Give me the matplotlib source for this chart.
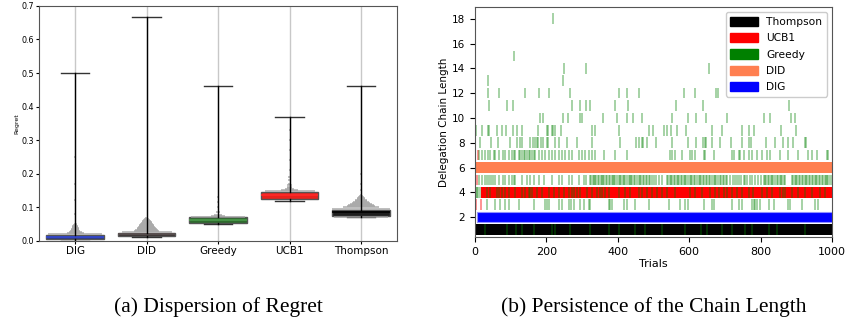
import numpy as np
import matplotlib.pyplot as plt
from matplotlib.patches import Patch

# ---- (a) regret box plots ----
algos = ["DIG", "DID", "Greedy", "UCB1", "Thompson"]
box_med = [0.012, 0.019, 0.063, 0.135, 0.087]
box_q1 = [0.004, 0.013, 0.052, 0.124, 0.074]
box_q3 = [0.017, 0.024, 0.070, 0.145, 0.093]
whis_lo = [0.0, 0.012, 0.049, 0.119, 0.070]
whis_hi = [0.499, 0.666, 0.461, 0.368, 0.461]
box_colors = ["#2b3a8c", "#3d3433", "#2e6b2e", "#e8211c", "#1e1e1e"]
med_colors = ["#3448d0", "#5a5050", "#4a9a4a", "#ff2a2a", "#000000"]

# outlier clouds above each box: regret level and relative count
dig_out = [0.019, 0.022, 0.025, 0.028, 0.031, 0.034, 0.037, 0.040, 0.043, 0.046, 0.049, 0.08, 0.12, 0.17, 0.25]
dig_cnt = [38, 12, 9, 7, 6, 5.5, 5, 4.5, 4, 3, 2, 1, 1, 1, 1]
did_out = [0.025, 0.028, 0.031, 0.034, 0.037, 0.040, 0.043, 0.046, 0.049, 0.052, 0.055, 0.058, 0.061, 0.064, 0.067]
did_cnt = [35, 18, 16, 14, 13, 12, 11, 10, 9, 8, 7, 6, 5, 3, 1.5]
greedy_out = [0.072, 0.075, 0.078, 0.085, 0.10, 0.115, 0.13]
greedy_cnt = [38, 10, 5, 3, 2, 2, 1.5]
ucb_out = [0.147, 0.150, 0.153, 0.156, 0.160, 0.165, 0.170, 0.18, 0.19, 0.21, 0.24, 0.27, 0.30, 0.33]
ucb_cnt = [35, 12, 6, 4, 3.5, 3, 2.5, 2, 1.5, 1.2, 1, 1, 1, 1]
thomp_out = [0.072, 0.096, 0.099, 0.102, 0.105, 0.108, 0.111, 0.114, 0.117, 0.120, 0.123, 0.126, 0.129, 0.132, 0.135, 0.15, 0.17, 0.20]
thomp_cnt = [38, 40, 25, 20, 18, 15, 13, 11, 9, 8, 6, 5, 4, 3, 2, 1, 1, 1]

# ---- (b) chosen chain length per trial ----
thompson_start, thompson_level = 0, 1
dig_start, dig_level = 5, 2
ucb_start, ucb_level = 18, 4
did_start, did_level = 0, 6
ucb_early_trials = [3, 6, 7, 16]
ucb_early_levels = [3, 5, 7, 3]

g1 = [29, 90, 115, 132, 164, 216, 225, 267, 323, 374, 402, 449, 477, 524, 589, 634, 650, 692, 720, 757, 776, 823, 846, 925]
g3 = [34, 57, 71, 85, 94, 122, 164, 195, 202, 208, 236, 244, 262, 270, 276, 295, 304, 318, 323, 374, 379, 384, 416, 426,
      449, 486, 544, 575, 589, 597, 640, 664, 668, 720, 740, 748, 776, 781, 785, 790, 799, 823, 837, 878, 883, 916, 953, 962]
g4 = [2, 5, 9, 13, 34, 43, 62, 66, 76, 85, 94, 113, 132, 141, 150, 155, 160, 174, 188, 206, 220, 234, 248, 262, 272, 276,
      286, 295, 314, 328, 342, 351, 356, 365, 374, 402, 421, 435, 458, 468, 482, 496, 510, 524, 538, 561, 603, 617, 636,
      659, 673, 682, 696, 706, 720, 734, 748, 766, 780, 804, 818, 832, 855, 864, 869, 888, 906, 925, 944, 967, 981]
g5 = [12, 20, 27, 34, 38, 44, 49, 55, 66, 78, 85, 94, 104, 108, 113, 132, 146, 155, 164, 178, 192, 216, 234, 244, 262,
      272, 290, 305, 311,
      323, 326, 330, 333, 337, 340, 344, 347, 352, 355, 359, 362, 366, 371, 374, 378, 383, 386, 390, 393, 397, 402, 405,
      409, 414, 418, 421, 425, 430, 433, 437, 441, 446, 449, 453, 458, 461, 466, 470, 474, 478, 483, 487, 491, 495, 500,
      507, 514, 524,
      538, 541, 545, 549, 553, 556, 560, 565, 569, 572, 576, 581, 585, 589, 592, 596, 601, 605, 609, 613, 617, 622, 626,
      630, 634, 638, 642, 647, 651, 655, 659, 663, 668, 672, 676, 681, 685, 689, 694, 698, 702, 706,
      715, 722, 729, 735, 740, 746, 752, 757, 762, 770, 776, 785, 794, 801,
      809, 812, 816, 820, 824, 828, 832, 836, 840, 845, 849, 853, 857, 861, 865, 869,
      888, 891, 895, 899, 903, 907, 911, 915, 919, 923, 927, 931, 935, 939, 943, 947, 951, 955, 959, 963, 967, 971, 975,
      979, 983, 987, 990, 995, 999]
g7 = [12, 20, 29, 36, 43, 52, 57, 66, 78, 85, 94, 104, 108, 113, 122, 127, 132, 136, 141, 146, 150, 155, 160, 164, 169,
      178, 188, 197, 206, 216, 225, 234, 244, 253, 262, 272, 290, 300, 309, 318, 328, 337, 360, 393, 426, 547, 552, 561,
      580, 603, 608, 617, 641, 645, 668, 720, 724, 738, 743, 752, 766, 776, 790, 804, 818, 827, 855, 878, 906, 934, 944,
      958, 986, 990]
g8 = [14, 44, 63, 98, 117, 126, 131, 154, 163, 168, 173, 177, 184, 191, 201, 205, 225, 236, 257, 285, 327, 406, 451, 460,
      467, 471, 483, 507, 553, 597, 619, 639, 644, 647, 665, 686, 716, 749, 768, 774, 816, 840, 863, 877, 891, 924, 928]
g9 = [3, 19, 37, 40, 61, 75, 87, 107, 117, 131, 177, 201, 205, 215, 219, 224, 240, 329, 336, 403, 488, 499, 530, 538,
      550, 566, 592, 665, 693, 749, 768, 781, 858, 900]
g10 = [182, 191, 247, 261, 294, 299, 359, 397, 425, 443, 469, 551, 597, 620, 648, 706, 809, 826, 884, 896]
g11 = [40, 90, 107, 271, 294, 311, 323, 392, 429, 564, 639, 879]
g12 = [35, 68, 139, 178, 208, 266, 404, 427, 458, 585, 616, 674, 680, 872]
g13 = [35, 247]
g14 = [250, 312, 656]
g15 = [110]
g18 = [217]
greedy_levels = [1, 3, 4, 5, 7, 8, 9, 10, 11, 12, 13, 14, 15, 18]
greedy_trials = [g1, g3, g4, g5, g7, g8, g9, g10, g11, g12, g13, g14, g15, g18]

n_trials = 1000

fig = plt.figure(figsize=(8.46, 3.22), dpi=100)

# ---------- left ----------
ax1 = fig.add_axes([0.0465, 0.2525, 0.4225, 0.729])
pos = np.arange(len(algos))
stats = []
for i in range(len(algos)):
    stats.append(dict(med=box_med[i], q1=box_q1[i], q3=box_q3[i],
                      whislo=whis_lo[i], whishi=whis_hi[i], fliers=[]))
bp = ax1.bxp(stats, positions=pos, widths=0.8, patch_artist=True, showfliers=False)
for i, b in enumerate(bp["boxes"]):
    b.set_facecolor(box_colors[i])
    b.set_edgecolor("#555555")
    b.set_linewidth(1)
    b.set_zorder(2)
for i, m in enumerate(bp["medians"]):
    m.set_color(med_colors[i])
    m.set_linewidth(1.2)
    m.set_zorder(2.5)
for w in bp["whiskers"]:
    w.set_color("black")
    w.set_linewidth(1)
    w.set_zorder(4)
for c in bp["caps"]:
    c.set_color("#333333")
    c.set_linewidth(1)

outs = [dig_out, did_out, greedy_out, ucb_out, thomp_out]
cnts = [dig_cnt, did_cnt, greedy_cnt, ucb_cnt, thomp_cnt]
for i in range(len(algos)):
    v = np.array(outs[i])
    half = np.array(cnts[i]) * 0.01
    ax1.hlines(v, pos[i] - half, pos[i] + half, color="#a0a0a0", lw=1.2, alpha=0.8, zorder=3)

ax1.set_xlim(-0.5, 4.5)
ax1.set_ylim(0, 0.7)
ax1.set_xticks(pos)
ax1.set_xticklabels(algos, fontsize=7.5)
ax1.set_yticks(np.arange(0, 0.71, 0.1))
ax1.set_yticklabels(["%.1f" % t for t in np.arange(0, 0.71, 0.1)], fontsize=5.8)
ax1.set_ylabel("Regret", fontsize=4.5, labelpad=2)
ax1.xaxis.grid(True, color="#c8c8c8", lw=1)
ax1.set_axisbelow(True)
ax1.tick_params(length=2, pad=1.5)
for s in ax1.spines.values():
    s.set_color("#555555")

# ---------- right ----------
ax2 = fig.add_axes([0.5615, 0.2625, 0.422, 0.716])
h = 0.86
ax2.barh(thompson_level, n_trials - thompson_start, left=thompson_start, height=h, color="black", lw=0)
ax2.barh(ucb_level, n_trials - ucb_start, left=ucb_start, height=h, color="red", lw=0)
ax2.vlines(ucb_early_trials, np.array(ucb_early_levels) - h / 2, np.array(ucb_early_levels) + h / 2,
           color="red", alpha=0.5, lw=1.2)
for lv, tr in zip(greedy_levels, greedy_trials):
    ax2.vlines(tr, lv - h / 2, lv + h / 2, color="green", alpha=0.45, lw=1.1)
ax2.barh(did_level, n_trials - did_start, left=did_start, height=h, color="#ff7f50", lw=0)
ax2.barh(dig_level, n_trials - dig_start, left=dig_start, height=h, color="blue",
         edgecolor="#9090ff", lw=0.8)

ax2.set_xlim(0, 1000)
ax2.set_ylim(0.36, 18.95)
ax2.set_yticks(np.arange(2, 19, 2))
ax2.set_xticks(np.arange(0, 1001, 200))
ax2.tick_params(axis="y", labelsize=7.5)
ax2.tick_params(axis="x", labelsize=8)
ax2.set_xlabel("Trials", fontsize=8, labelpad=1)
ax2.set_ylabel("Delegation Chain Length", fontsize=7.5, labelpad=2)
for s in ax2.spines.values():
    s.set_color("#555555")

handles = [Patch(color="black"), Patch(color="red"), Patch(color="green"),
           Patch(color="#ff7f50"), Patch(color="blue")]
ax2.legend(handles, ["Thompson", "UCB1", "Greedy", "DID", "DIG"], loc="upper right",
           fontsize=7.7, handlelength=2.6, handleheight=1.0, borderaxespad=0.5,
           labelspacing=0.55, framealpha=1, edgecolor="#cccccc")

# captions
fig.text(0.258, 0.045, "(a) Dispersion of Regret", ha="center", va="center",
         family="Liberation Serif", fontsize=15.5)
fig.text(0.773, 0.045, "(b) Persistence of the Chain Length", ha="center", va="center",
         family="Liberation Serif", fontsize=15.5)

fig.savefig("out.png", dpi=100)
